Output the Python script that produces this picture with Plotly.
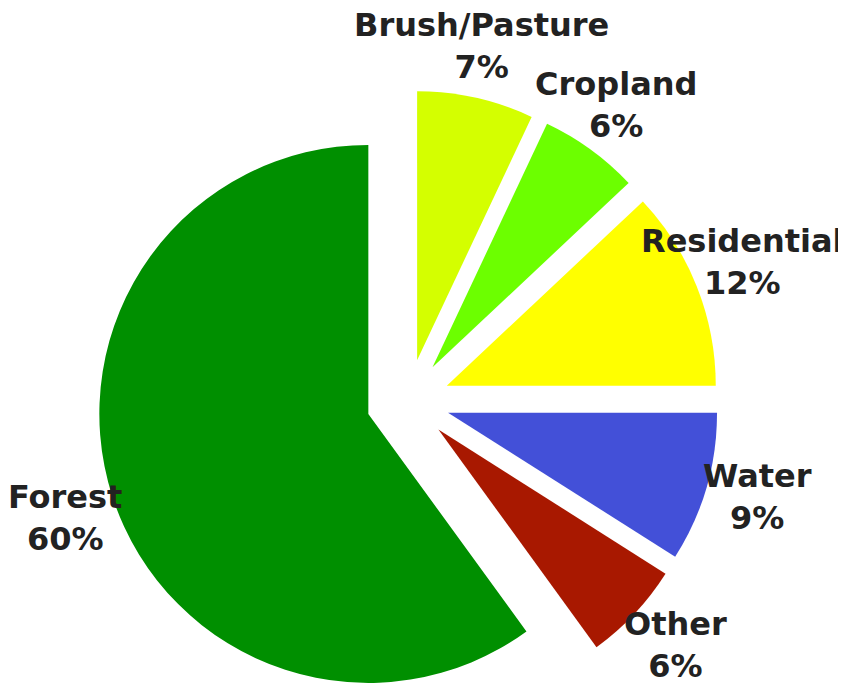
import math
import plotly.graph_objects as go

labels = ["Brush/Pasture", "Cropland", "Residential", "Water", "Other", "Forest"]
values = [7, 6, 12, 9, 6, 60]
colors = ["#d4ff00", "#6cff00", "#ffff00", "#4350d8", "#a81800", "#008f00"]

PULL = 0.155
pulls = [PULL] * len(values)

W, H = 846, 710
cx, cy, r = 400, 393, 269          # pie centre / radius in pixels
R = r * (1 + PULL)
LABEL_K = 1.346                    # label distance as a multiple of the radius
LABEL_ANGLE_SHIFT = -0.9           # degrees

fig = go.Figure(go.Pie(
    labels=labels,
    values=values,
    sort=False,
    direction="clockwise",
    rotation=0,
    pull=pulls,
    automargin=False,
    marker=dict(colors=colors, line=dict(width=0)),
    textinfo="none",
    hoverinfo="label+percent",
    showlegend=False,
    domain=dict(x=[(cx - R) / W, (cx + R) / W], y=[(H - cy - R) / H, (H - cy + R) / H]),
))

total = sum(values)
annotations = []
cum = 0
for lab, v in zip(labels, values):
    mid = (cum + v / 2) / total * 2 * math.pi + math.radians(LABEL_ANGLE_SHIFT)
    cum += v
    px = cx + LABEL_K * r * math.sin(mid)
    py = cy - LABEL_K * r * math.cos(mid)
    annotations.append(dict(
        x=px / W, y=1 - py / H, xref="paper", yref="paper",
        text=f"{lab}<br>{round(100 * v / total)}%",
        showarrow=False, xanchor="center", yanchor="middle", align="center",
        font=dict(family="DejaVu Sans", size=32, color="#222222", weight="bold"),
    ))

fig.update_layout(
    width=W, height=H,
    autosize=False,
    margin=dict(l=0, r=0, t=0, b=0, autoexpand=False),
    paper_bgcolor="white",
    plot_bgcolor="white",
    font=dict(family="DejaVu Sans"),
    annotations=annotations,
)

fig.write_html("out.html")
